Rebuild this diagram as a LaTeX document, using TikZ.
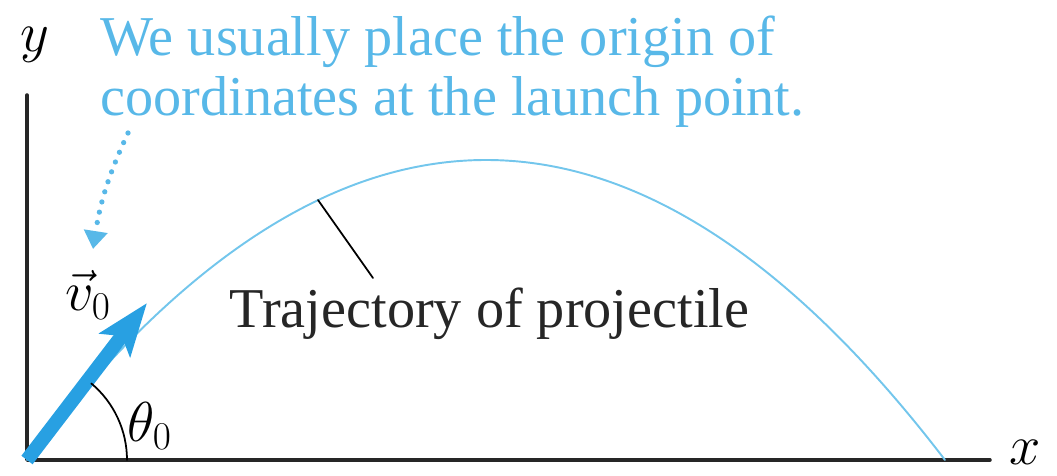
\RequirePackage{fix-cm}
\documentclass[tikz,border=0pt]{standalone}
\usepackage{fontspec}
\setmainfont{Liberation Serif}
\usetikzlibrary{arrows.meta}

\definecolor{trajblue}{RGB}{115,198,236}
\definecolor{velblue}{RGB}{40,160,226}
\definecolor{noteblue}{RGB}{88,184,232}

\begin{document}
\begin{tikzpicture}[>=latex, line cap=round, line join=round]

% --- Global TikZ Styles ---
\tikzset{
    axisline/.style={
        line width=2pt,
        draw=black!85
    },
    trajectory/.style={
        draw=trajblue,
        line width=1.1pt
    },
    velocity/.style={
        draw=velblue,
        line width=8pt,
        line cap=butt,
        -{Stealth[length=1.05cm, width=0.76cm, inset=0.22cm, fill=velblue]}
    },
    dotarrow/.style={
        draw=noteblue,
        line width=3pt,
        dash pattern=on 0pt off 6pt,
        -{Triangle[length=0.36cm, width=0.46cm, fill=noteblue]}
    },
    pointer/.style={
        draw=black,
        line width=1pt
    },
    bigtext/.style={
        font=\fontsize{32}{34}\selectfont,
        inner sep=0pt
    }
}

\useasboundingbox (-0.54,-0.30) rectangle (20.60,9.20);

% =========================================================================
% --- Axes ---
% =========================================================================
\coordinate (O) at (0,0);
\coordinate (ytop) at (0,7.30);
\coordinate (xend) at (19.26,0);

\draw[axisline] (ytop) -- (O) -- (xend);

\node[bigtext] (xlabel) at (19.96,0.16) {$x$};
\node[bigtext] (ylabel) at (0.16,8.30) {$y$};

% =========================================================================
% --- Trajectory: range 18.36, peak height 6.0 ---
% =========================================================================
\draw[trajectory]
    plot[domain=0:18.36, samples=200] (\x, {24*\x*(18.36-\x)/337.09});

% --- Launch velocity and angle ---
\coordinate (vtip) at (2.40,3.14);
\draw[velocity] (O) -- (vtip);

\draw[pointer] (2.0,0) arc[start angle=0, end angle=50, radius=2.0];

\node[bigtext] (vlabel) at (1.22,3.30) {$\vec{v}_0$};
\node[bigtext] (thetalabel) at (2.45,0.68) {$\theta_0$};

% --- Trajectory label ---
\node[bigtext, text=black!85, anchor=base] (trajlabel) at (9.25,2.64)
    {Trajectory of projectile};
\coordinate (onpath) at (5.82,5.20);
\coordinate (pinend) at (6.92,3.64);
\draw[pointer] (onpath) -- (pinend);

% =========================================================================
% --- Note about the origin ---
% =========================================================================
\node[bigtext, text=noteblue, anchor=west, align=left] (note) at (1.46,7.77)
    {We usually place the origin of\\coordinates at the launch point.};

\coordinate (notefoot) at (2.02,6.54);
\coordinate (notetip) at (1.32,4.22);
\draw[dotarrow] (notefoot) to[bend right=8] (notetip);

\end{tikzpicture}
\end{document}
